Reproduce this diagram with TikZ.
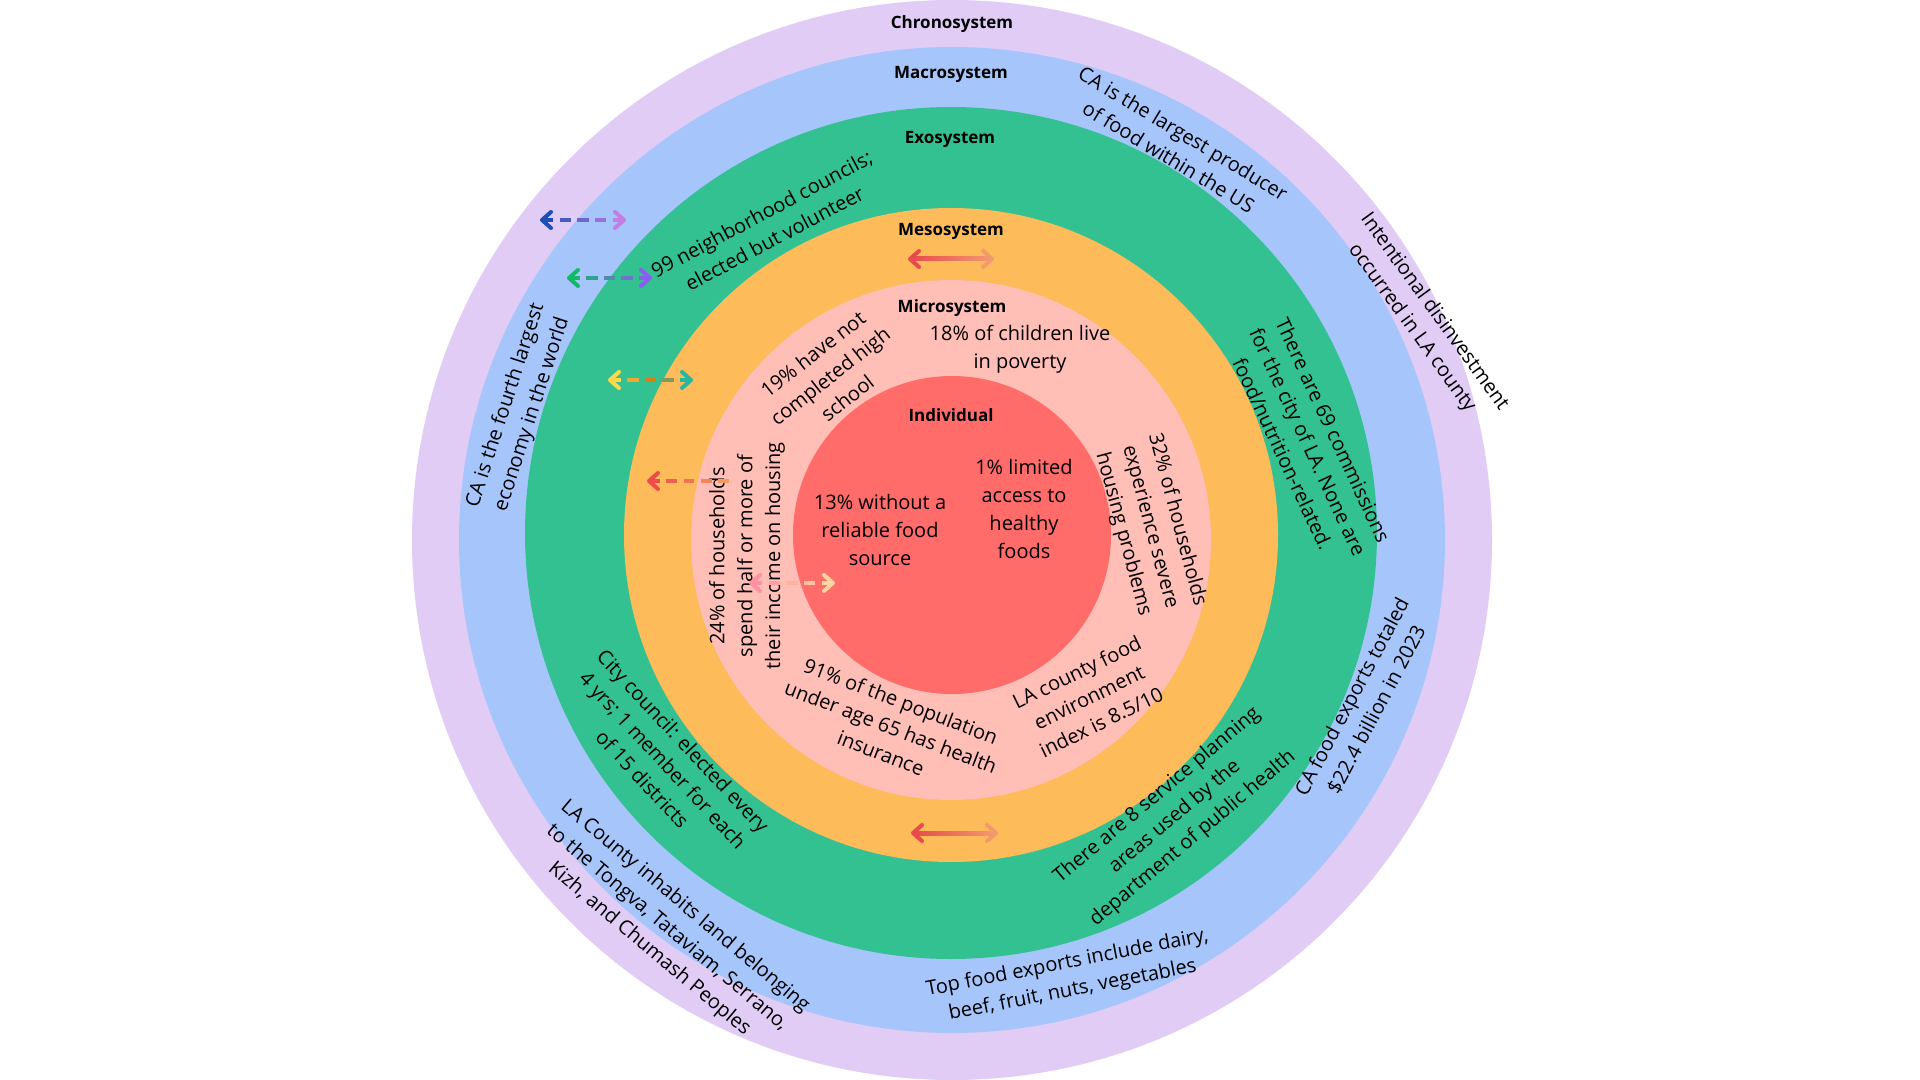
\documentclass[tikz,border=0pt]{standalone}
\usepackage{fontspec}
\setmainfont{Open Sans}
\usetikzlibrary{calc}
\definecolor{cPur}{HTML}{E1CCF6}
\definecolor{cBlu}{HTML}{A6C6FB}
\definecolor{cGrn}{HTML}{34C192}
\definecolor{cOrg}{HTML}{FDBB5A}
\definecolor{cPnk}{HTML}{FFBEB6}
\definecolor{cRed}{HTML}{FF6C6A}
\definecolor{aOneL}{HTML}{1E4DB8}
\definecolor{aOneR}{HTML}{C47DE2}
\definecolor{aTwoL}{HTML}{14B86B}
\definecolor{aTwoR}{HTML}{8E5CF2}
\definecolor{aThrA}{HTML}{FFD84A}
\definecolor{aThrB}{HTML}{E27A12}
\definecolor{aThrC}{HTML}{24B7A2}
\definecolor{aFouL}{HTML}{EE4B4B}
\definecolor{aFouR}{HTML}{F59A5E}
\definecolor{aFivL}{HTML}{FF8FA3}
\definecolor{aFivR}{HTML}{FFD4A3}
\definecolor{sL}{HTML}{E84B4B}
\definecolor{sR}{HTML}{F29A6E}
\newcommand\dashgrad[3]{%
  \foreach \c [count=\k from 0] in {#3}{%
    \pgfmathsetmacro\sa{\k*19/88}%
    \pgfmathsetmacro\sb{\sa+12/88}%
    \draw[shaft, draw=\c] ($(#1)!\sa!(#2)$) -- ($(#1)!\sb!(#2)$);
  }%
}
\newcommand\leftchev[2]{\draw[chev, draw=#2] ($(#1)+(9,-8)$) -- (#1) -- ($(#1)+(9,8)$);}
\newcommand\rightchev[2]{\draw[chev, draw=#2] ($(#1)+(-9,-8)$) -- (#1) -- ($(#1)+(-9,8)$);}
\begin{document}
\begin{tikzpicture}[x=0.5pt,y=-0.5pt,
  txt/.style={font=\fontsize{10}{13.9}\selectfont, align=center, inner sep=0pt, text=black},
  lvl/.style={font=\fontsize{8.5}{10}\selectfont\bfseries, inner sep=0pt, text=black},
  shaft/.style={line width=2pt, line cap=butt},
  chev/.style={line width=2pt, line cap=round, line join=round}]
\useasboundingbox (0,0) rectangle (1920,1080);
\fill[white] (0,0) rectangle (1920,1080);
% rings
\coordinate (cA) at (952,540);
\coordinate (cB) at (952,540);
\coordinate (cC) at (951,533);
\coordinate (cD) at (951,535);
\coordinate (cE) at (951,540);
\coordinate (cF) at (952,535);
\fill[cPur] (cA) circle[radius=540];
\fill[cBlu] (cB) circle[radius=493];
\fill[cGrn] (cC) circle[radius=426];
\fill[cOrg] (cD) circle[radius=327];
\fill[cPnk] (cE) circle[radius=260];
\fill[cRed] (cF) circle[radius=159];
% level labels
\node[lvl] (lChrono) at (952,24) {Chronosystem};
\node[lvl] (lMacro) at (951,74) {Macrosystem};
\node[lvl] (lExo) at (950,139) {Exosystem};
\node[lvl] (lMeso) at (951,231) {Mesosystem};
\node[lvl] (lMicro) at (952,308) {Microsystem};
\node[lvl] (lIndiv) at (951,415) {Individual};
% individual
\node[txt] (tI1) at (880,530) {13\% without a\\reliable food\\source};
\node[txt] (tI2) at (1024,509) {1\% limited\\access to\\healthy\\foods};
% microsystem
\node[txt] (tM1) at (1020,349) {18\% of children live\\in poverty};
\node[txt, rotate=38] (tM2) at (830,376) {19\% have not\\completed high\\school};
\node[txt, rotate=90] (tM3) at (747,556) {24\% of households\\spend half or more of\\their income on housing};
\node[txt, rotate=-21] (tM4) at (891,727) {91\% of the population\\under age 65 has health\\insurance};
\node[txt, rotate=26] (tM5) at (1089,697) {LA county food\\environment\\index is 8.5/10};
\node[txt, rotate=-75] (tM6) at (1150,527) {32\% of households\\experience severe\\housing problems};
% exosystem
\node[txt, rotate=28] (tE1) at (768,226) {99 neighborhood councils;\\elected but volunteer};
\node[txt, rotate=-65] (tE2) at (1308,442) {There are 69 commissions\\for the city of LA. None are\\food/nutrition-related.};
\node[txt, rotate=40] (tE3) at (1175,817) {There are 8 service planning\\areas used by the\\department of public health};
\node[txt, rotate=-47] (tE4) at (663,760) {City council: elected every\\4 yrs; 1 member for each\\of 15 districts};
% macrosystem
\node[txt, rotate=-31] (tB1) at (1176,145) {CA is the largest producer\\of food within the US};
\node[txt, rotate=72] (tB2) at (519,410) {CA is the fourth largest\\economy in the world};
\node[txt, rotate=62] (tB3) at (1364,703) {CA food exports totaled\\\$22.4 billion in 2023};
\node[txt, rotate=11] (tB4) at (1070,977) {Top food exports include dairy,\\beef, fruit, nuts, vegetables};
% chronosystem
\node[txt, rotate=-54] (tC1) at (1423,320) {Intentional disinvestment\\occurred in LA county};
\node[txt, rotate=-40] (tC2) at (667,928) {LA County inhabits land belonging\\to the Tongva, Tataviam, Serrano,\\Kizh, and Chumash Peoples};
% arrows
\coordinate (d1a) at (542,220); \coordinate (d1b) at (624,220);
\coordinate (d2a) at (569,278); \coordinate (d2b) at (650,278);
\coordinate (d3a) at (610,380); \coordinate (d3b) at (691,380);
\coordinate (d4a) at (649,481); \coordinate (d4b) at (729,481);
\coordinate (d5a) at (751,583); \coordinate (d5b) at (833,583);
\coordinate (s1a) at (910,259); \coordinate (s1b) at (992,259);
\coordinate (s2a) at (913,833); \coordinate (s2b) at (996,833);
\dashgrad{d1a}{d1b}{aOneL, aOneR!25!aOneL, aOneR!50!aOneL, aOneR!75!aOneL, aOneR}
\leftchev{d1a}{aOneL}\rightchev{d1b}{aOneR}
\dashgrad{d2a}{d2b}{aTwoL, aTwoR!25!aTwoL, aTwoR!50!aTwoL, aTwoR!75!aTwoL, aTwoR}
\leftchev{d2a}{aTwoL}\rightchev{d2b}{aTwoR}
\dashgrad{d3a}{d3b}{aThrA, aThrB!50!aThrA, aThrB, aThrC!50!aThrB, aThrC}
\leftchev{d3a}{aThrA}\rightchev{d3b}{aThrC}
\dashgrad{d4a}{d4b}{aFouL, aFouR!25!aFouL, aFouR!50!aFouL, aFouR!75!aFouL, aFouR}
\leftchev{d4a}{aFouL}
\dashgrad{d5a}{d5b}{aFivL, aFivR!25!aFivL, aFivR!50!aFivL, aFivR!75!aFivL, aFivR}
\leftchev{d5a}{aFivL}\rightchev{d5b}{aFivR}
\shade[left color=sL, right color=sR] ($(s1a)+(1,-2)$) rectangle ($(s1b)+(-1,2)$);
\leftchev{s1a}{sL}\rightchev{s1b}{sR}
\shade[left color=sL, right color=sR] ($(s2a)+(1,-2)$) rectangle ($(s2b)+(-1,2)$);
\leftchev{s2a}{sL}\rightchev{s2b}{sR}
\end{tikzpicture}
\end{document}
